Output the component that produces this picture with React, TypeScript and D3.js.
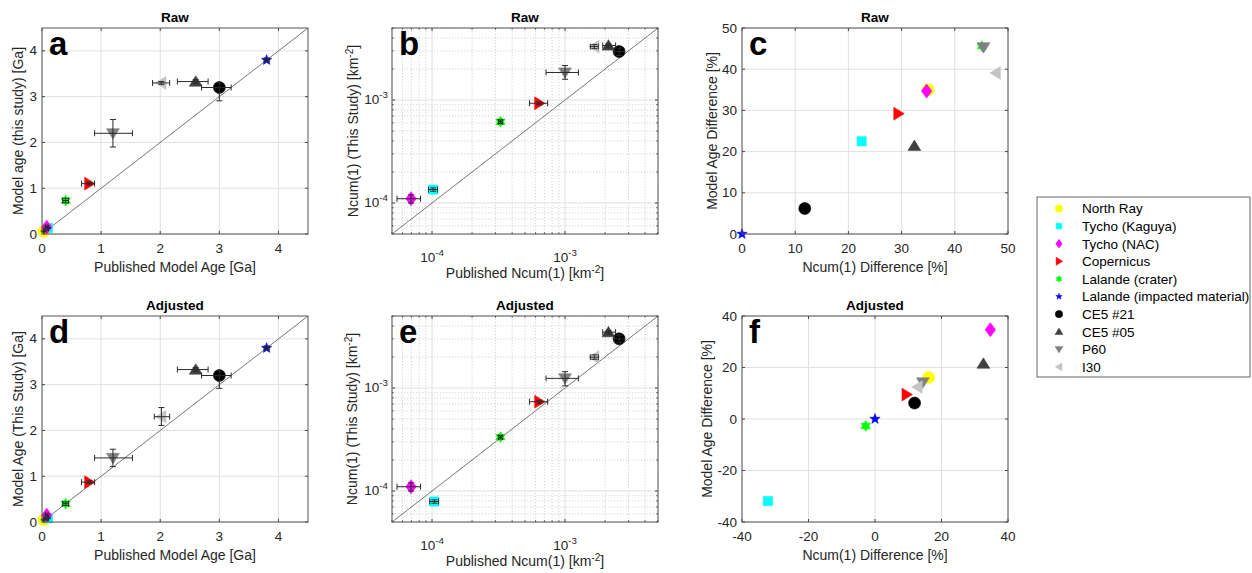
import React, { useRef, useEffect } from "react";
import * as d3 from "d3";

const names = ["North Ray", "Tycho (Kaguya)", "Tycho (NAC)", "Copernicus", "Lalande (crater)", "Lalande (impacted material)", "CE5 #21", "CE5 #05", "P60", "I30"];
const colors = ["#ffff00", "#00ffff", "#ff00ff", "#ff0000", "#00ff00", "#0000ff", "#000000", "#404040", "#808080", "#c4c4c4"];
const shapes = ["o", "s", "d", ">", "h", "p", "o", "^", "v", "<"];

// [published, lo, hi, this study, lo, hi]  (Ga)
const rawAge = [
  [0.03, 0.02, 0.04, 0.06, 0.05, 0.07],
  [0.1, 0.09, 0.11, 0.13, 0.12, 0.14],
  [0.08, 0.06, 0.1, 0.15, 0.13, 0.17],
  [0.8, 0.67, 0.89, 1.1, 1.07, 1.13],
  [0.4, 0.35, 0.45, 0.73, 0.68, 0.78],
  [3.8, 3.76, 3.84, 3.8, 3.77, 3.83],
  [3.0, 2.7, 3.2, 3.2, 2.91, 3.3],
  [2.6, 2.29, 2.81, 3.33, 3.29, 3.37],
  [1.2, 0.89, 1.53, 2.2, 1.9, 2.5],
  [2.02, 1.87, 2.16, 3.3, 3.27, 3.33],
];
const adjAge = [
  [0.03, 0.02, 0.04, 0.05, 0.04, 0.06],
  [0.1, 0.09, 0.11, 0.08, 0.07, 0.09],
  [0.08, 0.06, 0.1, 0.15, 0.13, 0.17],
  [0.8, 0.67, 0.89, 0.87, 0.84, 0.9],
  [0.4, 0.35, 0.45, 0.4, 0.36, 0.44],
  [3.8, 3.76, 3.84, 3.8, 3.77, 3.83],
  [3.0, 2.7, 3.2, 3.2, 2.92, 3.3],
  [2.6, 2.29, 2.81, 3.33, 3.29, 3.37],
  [1.2, 0.89, 1.53, 1.4, 1.21, 1.59],
  [2.02, 1.9, 2.16, 2.3, 2.11, 2.5],
];

// [published, lo, hi, this study, lo, hi]  (km^-2)
const rawN = [
  [4.2e-5, 4.0e-5, 4.4e-5, 4.4e-5, 4.2e-5, 4.6e-5],
  [1.02e-4, 9.4e-5, 1.1e-4, 1.35e-4, 1.3e-4, 1.4e-4],
  [6.95e-5, 5.45e-5, 8.2e-5, 1.1e-4, 1.0e-4, 1.2e-4],
  [6.4e-4, 5.4e-4, 7.4e-4, 9.3e-4, 9.0e-4, 9.6e-4],
  [3.27e-4, 3.17e-4, 3.37e-4, 6.15e-4, 5.9e-4, 6.4e-4],
  [1.2e-2, 1.15e-2, 1.25e-2, 1.2e-2, 1.15e-2, 1.25e-2],
  [2.55e-3, 2.35e-3, 2.8e-3, 2.95e-3, 2.7e-3, 3.2e-3],
  [2.12e-3, 1.92e-3, 2.4e-3, 3.38e-3, 3.25e-3, 3.5e-3],
  [1.0e-3, 7.2e-4, 1.26e-3, 1.85e-3, 1.59e-3, 2.16e-3],
  [1.66e-3, 1.55e-3, 1.78e-3, 3.3e-3, 3.15e-3, 3.45e-3],
];
const adjN = [
  [4.2e-5, 4.0e-5, 4.4e-5, 4.3e-5, 4.1e-5, 4.5e-5],
  [1.04e-4, 9.6e-5, 1.12e-4, 7.9e-5, 7.6e-5, 8.2e-5],
  [6.95e-5, 5.45e-5, 8.2e-5, 1.1e-4, 1.0e-4, 1.2e-4],
  [6.4e-4, 5.4e-4, 7.4e-4, 7.36e-4, 7.1e-4, 7.6e-4],
  [3.27e-4, 3.17e-4, 3.37e-4, 3.33e-4, 3.2e-4, 3.46e-4],
  [1.2e-2, 1.15e-2, 1.25e-2, 1.2e-2, 1.15e-2, 1.25e-2],
  [2.55e-3, 2.35e-3, 2.8e-3, 3.0e-3, 2.75e-3, 3.25e-3],
  [2.12e-3, 1.92e-3, 2.4e-3, 3.48e-3, 3.35e-3, 3.6e-3],
  [1.0e-3, 7.2e-4, 1.26e-3, 1.24e-3, 1.05e-3, 1.44e-3],
  [1.66e-3, 1.55e-3, 1.78e-3, 1.99e-3, 1.9e-3, 2.1e-3],
];

// [Ncum(1) difference %, model age difference %]
const rawDiff = [
  [35.0, 35.0],
  [22.5, 22.5],
  [34.7, 34.7],
  [29.4, 29.2],
  [45.1, 45.6],
  [0, 0],
  [11.8, 6.2],
  [32.4, 21.4],
  [45.4, 45.3],
  [47.7, 39.1],
];
const adjDiff = [
  [16.1, 16.1],
  [-32.2, -31.9],
  [34.7, 34.7],
  [9.5, 9.5],
  [-2.8, -2.7],
  [0, 0],
  [11.9, 6.2],
  [32.6, 21.5],
  [14.4, 14.2],
  [12.8, 12.4],
];

const ageTicks = [0, 1, 2, 3, 4];
const nTicks = [1e-4, 1e-3];
const rawDiffTicks = [0, 10, 20, 30, 40, 50];
const adjDiffTicks = [-40, -20, 0, 20, 40];

const FONT = "'Liberation Sans', Arial, Helvetica, sans-serif";
const TXT = "#262626";

type Part = [string, boolean?];

function markerPath(shape: string, s: number) {
  const p = d3.path();
  const poly = (pts: number[][]) => {
    pts.forEach(([a, b], i) => (i ? p.lineTo(a, b) : p.moveTo(a, b)));
    p.closePath();
  };
  const star = (n: number, R: number, r: number) => {
    const pts: number[][] = [];
    for (let i = 0; i < n * 2; i++) {
      const ang = -Math.PI / 2 + (i * Math.PI) / n;
      const rr = i % 2 ? r : R;
      pts.push([rr * Math.cos(ang), rr * Math.sin(ang)]);
    }
    poly(pts);
  };
  if (shape === "o") p.arc(0, 0, 6 * s, 0, Math.PI * 2);
  else if (shape === "s") { const h = 4.6 * s; p.rect(-h, -h, 2 * h, 2 * h); }
  else if (shape === "d") poly([[0, -7 * s], [5.2 * s, 0], [0, 7 * s], [-5.2 * s, 0]]);
  else if (shape === "p") star(5, 5.4 * s, 2.2 * s);
  else if (shape === "h") star(6, 5.4 * s, 3.1 * s);
  else {
    const base = [[0, -5.8 * s], [6.4 * s, 4.6 * s], [-6.4 * s, 4.6 * s]];
    const rot = ({ "^": 0, ">": 90, v: 180, "<": 270 } as any)[shape] * Math.PI / 180;
    poly(base.map(([a, b]) => [a * Math.cos(rot) - b * Math.sin(rot), a * Math.sin(rot) + b * Math.cos(rot)]));
  }
  return p.toString();
}

function rich(t: any, parts: Part[], sup = 5) {
  let raised = false;
  parts.forEach(([str, isSup]) => {
    const ts = t.append("tspan").text(str);
    if (isSup && !raised) { ts.attr("dy", -sup).attr("font-size", "0.72em"); raised = true; }
    else if (!isSup && raised) { ts.attr("dy", sup); raised = false; }
  });
}

function drawPanel(svg: any, cfg: any) {
  const { left, top, w, h, log, xDomain, yDomain, xTicks, yTicks, title, letter, xLabel, yLabel, pts, err, diag, ylabOff } = cfg;
  const x = (log ? d3.scaleLog() : d3.scaleLinear()).domain(xDomain).range([left, left + w]);
  const y = (log ? d3.scaleLog() : d3.scaleLinear()).domain(yDomain).range([top + h, top]);
  const g = svg.append("g");
  const isDecade = (v: number) => Math.abs(Math.log10(v) - Math.round(Math.log10(v))) < 1e-6;

  g.append("rect").attr("x", left).attr("y", top).attr("width", w).attr("height", h).attr("fill", "#fff");

  if (log) {
    const mx = (x as any).ticks().filter((v: number) => !isDecade(v));
    const my = (y as any).ticks().filter((v: number) => !isDecade(v));
    g.selectAll(".mgx").data(mx).join("line")
      .attr("x1", (d: number) => x(d)).attr("x2", (d: number) => x(d)).attr("y1", top).attr("y2", top + h)
      .attr("stroke", "#c8c8c8").attr("stroke-width", 0.8).attr("stroke-dasharray", "1.2,1.8");
    g.selectAll(".mgy").data(my).join("line")
      .attr("y1", (d: number) => y(d)).attr("y2", (d: number) => y(d)).attr("x1", left).attr("x2", left + w)
      .attr("stroke", "#c8c8c8").attr("stroke-width", 0.8).attr("stroke-dasharray", "1.2,1.8");
    // minor ticks
    mx.forEach((v: number) => {
      g.append("line").attr("x1", x(v)).attr("x2", x(v)).attr("y1", top + h).attr("y2", top + h - 1.6).attr("stroke", "#444");
      g.append("line").attr("x1", x(v)).attr("x2", x(v)).attr("y1", top).attr("y2", top + 1.6).attr("stroke", "#444");
    });
    my.forEach((v: number) => {
      g.append("line").attr("y1", y(v)).attr("y2", y(v)).attr("x1", left).attr("x2", left + 1.6).attr("stroke", "#444");
      g.append("line").attr("y1", y(v)).attr("y2", y(v)).attr("x1", left + w).attr("x2", left + w - 1.6).attr("stroke", "#444");
    });
  }
  g.selectAll(".gx").data(xTicks).join("line")
    .attr("x1", (d: number) => x(d)).attr("x2", (d: number) => x(d)).attr("y1", top).attr("y2", top + h)
    .attr("stroke", "#e0e0e0").attr("stroke-width", 1);
  g.selectAll(".gy").data(yTicks).join("line")
    .attr("y1", (d: number) => y(d)).attr("y2", (d: number) => y(d)).attr("x1", left).attr("x2", left + w)
    .attr("stroke", "#e0e0e0").attr("stroke-width", 1);

  // major ticks on all sides
  const tl = 3;
  xTicks.forEach((v: number) => {
    g.append("line").attr("x1", x(v)).attr("x2", x(v)).attr("y1", top + h).attr("y2", top + h - tl).attr("stroke", "#444");
    g.append("line").attr("x1", x(v)).attr("x2", x(v)).attr("y1", top).attr("y2", top + tl).attr("stroke", "#444");
  });
  yTicks.forEach((v: number) => {
    g.append("line").attr("y1", y(v)).attr("y2", y(v)).attr("x1", left).attr("x2", left + tl).attr("stroke", "#444");
    g.append("line").attr("y1", y(v)).attr("y2", y(v)).attr("x1", left + w).attr("x2", left + w - tl).attr("stroke", "#444");
  });

  const clipId = "clip" + letter;
  svg.append("clipPath").attr("id", clipId).append("rect").attr("x", left).attr("y", top).attr("width", w).attr("height", h);

  if (diag) {
    const line = d3.line<number>().x((d) => x(d)).y((d) => y(d));
    g.append("path").datum(xDomain).attr("d", line).attr("fill", "none")
      .attr("stroke", "#666").attr("stroke-width", 0.9).attr("clip-path", `url(#${clipId})`);
  }

  const inside = (d: number[]) => {
    const px = d[0], py = err ? d[3] : d[1];
    return px >= xDomain[0] && px <= xDomain[1] && py >= yDomain[0] && py <= yDomain[1];
  };
  const rows = pts.map((d: number[], i: number) => ({ d, i })).filter((r: any) => inside(r.d));

  rows.forEach(({ d, i }: any) => {
    const px = x(d[0]), py = y(err ? d[3] : d[1]);
    g.append("path").attr("d", markerPath(shapes[i], 1)).attr("transform", `translate(${px},${py})`)
      .attr("fill", colors[i]).attr("stroke", colors[i]).attr("stroke-width", 0.6);
  });

  if (err) {
    const cap = 3;
    rows.forEach(({ d }: any) => {
      const px = x(d[0]), py = y(d[3]);
      const x1 = x(d[1]), x2 = x(d[2]), y1 = y(d[4]), y2 = y(d[5]);
      const p = d3.path();
      p.moveTo(x1, py); p.lineTo(x2, py);
      p.moveTo(x1, py - cap); p.lineTo(x1, py + cap);
      p.moveTo(x2, py - cap); p.lineTo(x2, py + cap);
      p.moveTo(px, y1); p.lineTo(px, y2);
      p.moveTo(px - cap, y1); p.lineTo(px + cap, y1);
      p.moveTo(px - cap, y2); p.lineTo(px + cap, y2);
      g.append("path").attr("d", p.toString()).attr("fill", "none").attr("stroke", "#2a2a2a").attr("stroke-width", 1);
    });
  }

  g.append("rect").attr("x", left).attr("y", top).attr("width", w).attr("height", h)
    .attr("fill", "none").attr("stroke", "#555").attr("stroke-width", 1);

  // tick labels
  xTicks.forEach((v: number) => {
    const t = g.append("text").attr("x", x(v)).attr("y", top + h + (log ? 27.5 : 18.5))
      .attr("text-anchor", "middle").attr("font-family", FONT).attr("font-size", 13.5).attr("fill", TXT);
    if (log) rich(t, [["10"], [String(Math.round(Math.log10(v))), true]], 6);
    else t.text(String(v));
  });
  yTicks.forEach((v: number) => {
    const t = g.append("text").attr("x", left - (log ? 4 : 5)).attr("y", y(v) + 4.5)
      .attr("text-anchor", "end").attr("font-family", FONT).attr("font-size", 13.5).attr("fill", TXT);
    if (log) rich(t, [["10"], [String(Math.round(Math.log10(v))), true]], 6);
    else t.text(String(v));
  });

  const xl = g.append("text").attr("x", left + w / 2).attr("y", top + h + (log ? 44 : 37.5))
    .attr("text-anchor", "middle").attr("font-family", FONT).attr("font-size", 14).attr("fill", TXT);
  rich(xl, xLabel);
  const yl = g.append("text").attr("transform", `translate(${left - ylabOff},${top + h / 2}) rotate(-90)`)
    .attr("dy", "0.35em").attr("text-anchor", "middle").attr("font-family", FONT).attr("font-size", 14).attr("fill", TXT);
  rich(yl, yLabel);

  g.append("text").attr("x", left + w / 2).attr("y", top - 6.5).attr("text-anchor", "middle")
    .attr("font-family", FONT).attr("font-size", 13.5).attr("font-weight", "bold").attr("fill", "#000").text(title);
  g.append("text").attr("x", left + 7).attr("y", top + 27).attr("font-family", FONT)
    .attr("font-size", 33).attr("font-weight", "bold").attr("fill", "#000").text(letter);
}

function drawLegend(svg: any) {
  const lx = 1037, ly = 197, lw = 213, lh = 180, step = 17.6;
  const g = svg.append("g");
  g.append("rect").attr("x", lx).attr("y", ly).attr("width", lw).attr("height", lh)
    .attr("fill", "#fff").attr("stroke", "#666").attr("stroke-width", 1);
  names.forEach((n, i) => {
    const cy = ly + 11.5 + i * step;
    g.append("path").attr("d", markerPath(shapes[i], 0.62)).attr("transform", `translate(${lx + 22},${cy})`)
      .attr("fill", colors[i]).attr("stroke", colors[i]).attr("stroke-width", 0.5);
    g.append("text").attr("x", lx + 45).attr("y", cy + 4.8).attr("font-family", FONT).attr("font-size", 13.5)
      .attr("fill", "#000").text(n);
  });
}

const colX = [42, 392, 742];
const rowY = [28, 316];
const PW = 266, PH = 206;

const ageXLabel: Part[] = [["Published Model Age [Ga]"]];
const nXLabel: Part[] = [["Published Ncum(1) [km"], ["-2", true], ["]"]];
const nYLabel: Part[] = [["Ncum(1) (This Study) [km"], ["-2", true], ["]"]];
const diffXLabel: Part[] = [["Ncum(1) Difference [%]"]];
const diffYLabel: Part[] = [["Model Age Difference [%]"]];

const panels = [
  { left: colX[0], top: rowY[0], log: false, xDomain: [0, 4.5], yDomain: [0, 4.5], xTicks: ageTicks, yTicks: ageTicks, title: "Raw", letter: "a", xLabel: ageXLabel, yLabel: [["Model age (this study) [Ga]"]], pts: rawAge, err: true, diag: true, ylabOff: 24 },
  { left: colX[1], top: rowY[0], log: true, xDomain: [5e-5, 5e-3], yDomain: [5e-5, 5e-3], xTicks: nTicks, yTicks: nTicks, title: "Raw", letter: "b", xLabel: nXLabel, yLabel: nYLabel, pts: rawN, err: true, diag: true, ylabOff: 39 },
  { left: colX[2], top: rowY[0], log: false, xDomain: [0, 50], yDomain: [0, 50], xTicks: rawDiffTicks, yTicks: rawDiffTicks, title: "Raw", letter: "c", xLabel: diffXLabel, yLabel: diffYLabel, pts: rawDiff, err: false, diag: false, ylabOff: 30 },
  { left: colX[0], top: rowY[1], log: false, xDomain: [0, 4.5], yDomain: [0, 4.5], xTicks: ageTicks, yTicks: ageTicks, title: "Adjusted", letter: "d", xLabel: ageXLabel, yLabel: [["Model Age (This Study) [Ga]"]], pts: adjAge, err: true, diag: true, ylabOff: 24 },
  { left: colX[1], top: rowY[1], log: true, xDomain: [5e-5, 5e-3], yDomain: [5e-5, 5e-3], xTicks: nTicks, yTicks: nTicks, title: "Adjusted", letter: "e", xLabel: nXLabel, yLabel: nYLabel, pts: adjN, err: true, diag: true, ylabOff: 40 },
  { left: colX[2], top: rowY[1], log: false, xDomain: [-40, 40], yDomain: [-40, 40], xTicks: adjDiffTicks, yTicks: adjDiffTicks, title: "Adjusted", letter: "f", xLabel: diffXLabel, yLabel: diffYLabel, pts: adjDiff, err: false, diag: false, ylabOff: 35 },
];

export default function App() {
  const svgRef = useRef<SVGSVGElement>(null);

  useEffect(() => {
    const svg = d3.select(svgRef.current);
    svg.selectAll("*").remove();
    panels.forEach((p) => drawPanel(svg, { ...p, w: PW, h: PH }));
    drawLegend(svg);
  }, []);

  return (
    <div style={{ position: "absolute", left: 0, top: 0 }}>
      <svg ref={svgRef} width={1252} height={573} style={{ display: "block", background: "#fff" }}></svg>
    </div>
  );
}
